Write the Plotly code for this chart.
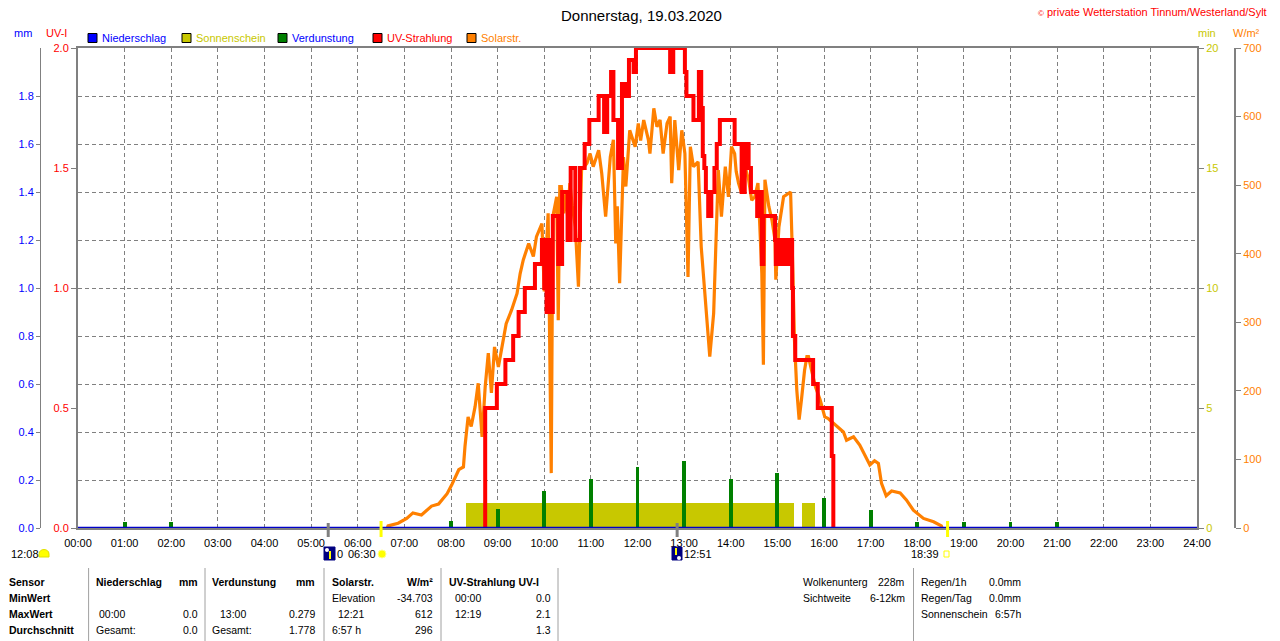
import plotly.graph_objects as go

W, H = 1280, 641
FONT = "Liberation Sans, Arial, sans-serif"

# ---------------- data ----------------
hour_ticks = list(range(25))
hour_labels = [f"{h:02d}:00" for h in hour_ticks]

solar_time = ["06:38", "06:39", "06:52", "07:03", "07:11", "07:22", "07:35", "07:44", "07:55", "08:01",
              "08:10", "08:16", "08:18", "08:22", "08:26", "08:31", "08:35", "08:40", "08:44", "08:48",
              "08:52", "08:56", "09:01", "09:07", "09:11", "09:18", "09:25", "09:29", "09:33", "09:40",
              "09:46", "09:50", "09:57", "10:00", "10:05", "10:09", "10:11", "10:16", "10:18", "10:20",
              "10:22", "10:25", "10:28", "10:30", "10:33", "10:36", "10:40", "10:44", "10:48", "10:55",
              "10:59", "11:03", "11:10", "11:14", "11:19", "11:25", "11:29", "11:32", "11:34", "11:37",
              "11:42", "11:45", "11:50", "11:57", "12:01", "12:04", "12:08", "12:14", "12:16", "12:21",
              "12:25", "12:29", "12:33", "12:38", "12:42", "12:44", "12:48", "12:53", "12:57", "13:01",
              "13:05", "13:08", "13:12", "13:18", "13:22", "13:26", "13:29", "13:33", "13:38", "13:41",
              "13:44", "13:48", "13:53", "13:57", "14:01", "14:05", "14:07", "14:10", "14:14", "14:18",
              "14:20", "14:23", "14:27", "14:31", "14:35", "14:40", "14:42", "14:44", "14:49", "14:53",
              "14:57", "14:58", "15:02", "15:08", "15:12", "15:17", "15:20", "15:22", "15:25", "15:28",
              "15:31", "15:35", "15:38", "15:40", "15:44", "15:49", "15:55", "16:01", "16:05", "16:12",
              "16:16", "16:25", "16:29", "16:38", "16:46", "16:53", "16:59", "17:05", "17:10", "17:14",
              "17:20", "17:27", "17:38", "17:46", "17:55", "18:08", "18:21", "18:31", "18:32"]
solar_wm2 = [0, 3, 7, 14, 22, 19, 32, 35, 50, 63,
             85, 89, 119, 162, 148, 177, 211, 133, 206, 255,
             197, 264, 235, 274, 298, 318, 342, 371, 391, 415,
             396, 425, 444, 345, 459, 80, 454, 483, 303, 498,
             498, 459, 490, 455, 503, 470, 439, 352, 522, 532,
             546, 527, 551, 517, 454, 541, 566, 415, 469, 357,
             541, 498, 580, 556, 590, 565, 595, 566, 546, 612,
             585, 595, 546, 590, 600, 503, 595, 522, 580, 546,
             366, 556, 527, 534, 410, 352, 308, 250, 313, 430,
             522, 454, 527, 483, 556, 546, 520, 503, 488, 546,
             520, 508, 478, 483, 503, 371, 238, 508, 469, 449,
             420, 362, 439, 483, 486, 490, 371, 274, 201, 158,
             187, 230, 250, 250, 230, 206, 187, 162, 160, 153,
             148, 140, 128, 133, 121, 104, 92, 98, 94, 65,
             47, 54, 51, 41, 26, 14, 9, 3, 0]

uv_time = ["08:43", "08:44", "08:59", "09:10", "09:20", "09:27", "09:35", "09:48", "09:57", "10:00",
           "10:01", "10:03", "10:04", "10:06", "10:08", "10:09", "10:11", "10:18", "10:23", "10:30",
           "10:34", "10:40", "10:46", "10:52", "10:58", "11:10", "11:17", "11:21", "11:26", "11:29",
           "11:35", "11:40", "11:45", "11:49", "11:55", "11:58", "12:42", "12:46", "13:01", "13:03",
           "13:12", "13:19", "13:22", "13:24", "13:26", "13:28", "13:31", "13:35", "13:39", "13:42",
           "13:46", "14:05", "14:14", "14:18", "14:23", "14:26", "14:34", "14:38", "14:40", "14:42",
           "14:57", "14:58", "15:01", "15:05", "15:08", "15:13", "15:15", "15:19", "15:20", "15:23",
           "15:46", "15:52", "16:10", "16:12"]
uv_index = [0.0, 0.5, 0.6, 0.7, 0.8, 0.9, 1.0, 1.1, 1.2, 1.0,
            1.2, 0.9, 1.2, 0.9, 1.1, 0.9, 1.3, 1.1, 1.4, 1.2,
            1.5, 1.2, 1.5, 1.6, 1.7, 1.8, 1.65, 1.8, 1.9, 1.7,
            1.5, 1.85, 1.8, 1.95, 1.9, 2.0, 1.9, 2.0, 1.9, 1.8,
            1.7, 1.9, 1.75, 1.55, 1.5, 1.4, 1.3, 1.4, 1.5, 1.6,
            1.7, 1.6, 1.4, 1.6, 1.5, 1.4, 1.3, 1.4, 1.1, 1.3,
            1.2, 1.1, 1.2, 1.1, 1.2, 1.1, 1.2, 1.0, 0.8, 0.7,
            0.6, 0.5, 0.3, 0.0]

evap_time = ["01:00", "02:00", "08:00", "09:00", "10:00", "11:00", "12:00", "13:00",
             "14:00", "15:00", "16:00", "17:00", "18:00", "19:00", "20:00", "21:00"]
evap_mm = [0.026, 0.026, 0.03, 0.078, 0.155, 0.205, 0.255, 0.279,
           0.205, 0.23, 0.126, 0.075, 0.026, 0.026, 0.026, 0.026]

sun_start = ["08:19", "15:32"]
sun_end = ["15:22", "15:49"]
sun_min = [1.05, 1.05]

rain_time = ["00:00", "24:00"]
rain_mm = [0.0, 0.0]

moon_times = ["05:22", "12:51"]
sun_times = ["06:30", "18:39"]

mm_ticks = [0.0, 0.2, 0.4, 0.6, 0.8, 1.0, 1.2, 1.4, 1.6, 1.8]
uv_ticks = [0.0, 0.5, 1.0, 1.5, 2.0]
min_ticks = [0, 5, 10, 15, 20]
wm2_ticks = [0, 100, 200, 300, 400, 500, 600, 700]


def hm(s):
    h, m = s.split(":")
    return int(h) + int(m) / 60.0


def px(x):
    return x / W


def py(y):
    return 1 - y / H


RED = "#ff0000"
ORANGE = "#ff8000"
OLIVE = "#c8c800"
GREEN = "#008000"
BLUE = "#0000ff"
DBLUE = "#0000c8"
GRAY = "#808080"

XD = [px(78), px(1197)]
YD = [py(528), py(48)]

fig = go.Figure()

s0 = [hm(t) for t in sun_start]
s1 = [hm(t) for t in sun_end]
fig.add_trace(go.Bar(x=[(a + b) / 2 for a, b in zip(s0, s1)], y=sun_min,
                     width=[b - a for a, b in zip(s0, s1)],
                     marker=dict(color=OLIVE, line=dict(width=0)),
                     xaxis="x", yaxis="y", name="Sonnenschein"))
fig.add_trace(go.Bar(x=[hm(t) for t in evap_time], y=evap_mm, width=0.085,
                     marker=dict(color=GREEN, line=dict(width=0)),
                     xaxis="x", yaxis="y2", name="Verdunstung"))
fig.add_trace(go.Scatter(x=[hm(t) for t in solar_time], y=solar_wm2, mode="lines",
                         line=dict(color=ORANGE, width=3.2), xaxis="x", yaxis="y3",
                         name="Solarstr."))
fig.add_trace(go.Scatter(x=[hm(t) for t in uv_time], y=uv_index, mode="lines",
                         line=dict(color=RED, width=4, shape="hv"), xaxis="x", yaxis="y4",
                         name="UV-Strahlung"))
fig.add_trace(go.Scatter(x=[hm(t) for t in rain_time], y=rain_mm, mode="lines",
                         line=dict(color=DBLUE, width=2.5), xaxis="x", yaxis="y5",
                         cliponaxis=False, name="Niederschlag"))

tf = dict(family=FONT, size=11)

fig.update_layout(
    width=W, height=H, margin=dict(l=0, r=0, t=0, b=0, pad=0, autoexpand=False),
    paper_bgcolor="white", plot_bgcolor="white",
    showlegend=False, barmode="overlay", bargap=0,
    font=dict(family=FONT, size=11, color="black"),
    xaxis=dict(domain=XD, range=[0, 24], tickvals=hour_ticks, ticktext=hour_labels,
               showgrid=True, gridcolor=GRAY, griddash="4px,3px", gridwidth=1,
               showline=True, mirror=True, linecolor=GRAY, linewidth=2,
               ticks="", tickfont=dict(tf, color="black"), zeroline=False,
               layer="below traces", ticklabelstandoff=4, automargin=False),
    yaxis=dict(domain=YD, range=[0, 20], side="right", anchor="x",
               tickvals=min_ticks, ticktext=[str(v) for v in min_ticks],
               ticks="outside", ticklen=5, tickcolor=GRAY,
               tickfont=dict(tf, color=OLIVE), showline=True, linecolor=GRAY, linewidth=2,
               showgrid=False, zeroline=False, layer="below traces", automargin=False),
    yaxis2=dict(overlaying="y", anchor="free", position=px(40), side="left", range=[0, 2],
                tickvals=mm_ticks, ticktext=[f"{v:.1f}" for v in mm_ticks],
                ticks="outside", ticklen=4, tickcolor=GRAY,
                tickfont=dict(tf, color=BLUE), showline=True, linecolor=GRAY, linewidth=1,
                showgrid=True, gridcolor=GRAY, griddash="4px,3px", gridwidth=1,
                zeroline=False, automargin=False),
    yaxis3=dict(overlaying="y", anchor="free", position=px(1235), side="right", range=[0, 700],
                tickvals=wm2_ticks, ticktext=[str(v) for v in wm2_ticks],
                ticks="outside", ticklen=5, tickcolor=GRAY,
                tickfont=dict(tf, color=ORANGE), showline=True, linecolor=GRAY, linewidth=2,
                showgrid=False, zeroline=False, automargin=False),
    yaxis4=dict(overlaying="y", anchor="x", side="left", range=[0, 2],
                tickvals=uv_ticks, ticktext=[f"{v:.1f}" for v in uv_ticks],
                ticks="outside", ticklen=5, tickcolor=GRAY,
                tickfont=dict(tf, color=RED), showline=True, linecolor=GRAY, linewidth=2,
                showgrid=False, zeroline=False, layer="below traces", automargin=False),
    yaxis5=dict(overlaying="y", range=[0, 2], visible=False, automargin=False),
)

ann = []
shapes = []


def A(text, x, y, color="black", anchor="left", size=11, bold=False):
    if bold:
        text = "<b>" + text + "</b>"
    ann.append(dict(text=text, x=px(x), y=py(y), xref="paper", yref="paper",
                    xanchor=anchor, yanchor="middle", showarrow=False,
                    font=dict(family=FONT, size=size, color=color), borderpad=0))


def R(x0, y0, x1, y1, fill, line="black", lw=1):
    shapes.append(dict(type="rect", xref="paper", yref="paper",
                       x0=px(x0), x1=px(x1), y0=py(y1), y1=py(y0),
                       fillcolor=fill, line=dict(color=line, width=lw)))


A("Donnerstag, 19.03.2020", 641, 15, anchor="center", size=15)
A("<span style='font-size:8px'>©</span> private Wetterstation Tinnum/Westerland/Sylt", 1268, 12,
  color=RED, anchor="right", size=11)

A("mm", 13, 33, color=BLUE)
A("UV-I", 45, 33, color=RED)
A("min", 1197, 33, color=OLIVE)
A("W/m²", 1232, 33, color=ORANGE)

legend_items = [("Niederschlag", "#0000ff", BLUE, 88),
                ("Sonnenschein", OLIVE, OLIVE, 182),
                ("Verdunstung", GREEN, BLUE, 278),
                ("UV-Strahlung", RED, RED, 373),
                ("Solarstr.", ORANGE, ORANGE, 467)]
for name, box, tc, x in legend_items:
    R(x, 33.5, x + 9, 42.5, box)
    A(name, x + 13, 38, color=tc)

for t in moon_times:
    shapes.append(dict(type="line", xref="x", yref="paper", x0=hm(t), x1=hm(t),
                       y0=py(537), y1=py(523), line=dict(color=GRAY, width=3)))
for t in sun_times:
    shapes.append(dict(type="line", xref="x", yref="paper", x0=hm(t), x1=hm(t),
                       y0=py(537), y1=py(521), line=dict(color="#ffff00", width=3)))

A("12:08", 10, 554)
# half-sun icon (yellow dome)
shapes.append(dict(type="path", xref="paper", yref="paper",
                   path=(f"M {px(39)},{py(557)} L {px(39)},{py(554)} "
                         f"C {px(39)},{py(548)} {px(49)},{py(548)} {px(49)},{py(554)} "
                         f"L {px(49)},{py(557)} Z"),
                   fillcolor="#ffff00", line=dict(color="#e0e000", width=1)))
R(324, 547, 335, 560, "#000080", line="#000080")
shapes.append(dict(type="circle", xref="paper", yref="paper", x0=px(325), x1=px(329),
                   y0=py(552), y1=py(548), fillcolor="white", line=dict(width=0)))
R(329, 551, 331, 559, "#ffff00", line="#ffff00", lw=0)
A("0", 336, 554)
A("06:30", 347, 554)
shapes.append(dict(type="circle", xref="paper", yref="paper", x0=px(378), x1=px(386),
                   y0=py(558), y1=py(550), fillcolor="#ffff00", line=dict(color="#ffff90", width=1)))
R(672, 547, 682, 560, "#000080", line="#000080")
R(675, 548, 677, 555, "#ffff00", line="#ffff00", lw=0)
shapes.append(dict(type="circle", xref="paper", yref="paper", x0=px(677), x1=px(681),
                   y0=py(560), y1=py(556), fillcolor="white", line=dict(width=0)))
A("12:51", 683, 554)
A("18:39", 940, 554, anchor="right")
R(944, 551, 949, 557, "rgba(0,0,0,0)", line="#ffff00", lw=1)

for x in [88.6, 205, 324, 441, 558, 913.5]:
    shapes.append(dict(type="line", xref="paper", yref="paper", x0=px(x), x1=px(x),
                       y0=py(641), y1=py(568), line=dict(color="#a0a0a0", width=1)))

TS = 10.5
r1, r2, r3, r4 = 582, 598, 614, 630
A("Sensor", 8, r1, bold=True, size=TS)
A("MinWert", 8, r2, bold=True, size=TS)
A("MaxWert", 8, r3, bold=True, size=TS)
A("Durchschnitt", 8, r4, bold=True, size=TS)

A("Niederschlag", 95, r1, bold=True, size=TS)
A("mm", 199, r1, anchor="right", bold=True, size=TS)
A("00:00", 98, r3, size=TS)
A("0.0", 199, r3, anchor="right", size=TS)
A("Gesamt:", 95, r4, size=TS)
A("0.0", 199, r4, anchor="right", size=TS)

A("Verdunstung", 211, r1, bold=True, size=TS)
A("mm", 316, r1, anchor="right", bold=True, size=TS)
A("13:00", 219, r3, size=TS)
A("0.279", 316, r3, anchor="right", size=TS)
A("Gesamt:", 211, r4, size=TS)
A("1.778", 316, r4, anchor="right", size=TS)

A("Solarstr.", 331, r1, bold=True, size=TS)
A("W/m²", 434, r1, anchor="right", bold=True, size=TS)
A("Elevation", 331, r2, size=TS)
A("-34.703", 434, r2, anchor="right", size=TS)
A("12:21", 337, r3, size=TS)
A("612", 434, r3, anchor="right", size=TS)
A("6:57 h", 331, r4, size=TS)
A("296", 434, r4, anchor="right", size=TS)

A("UV-Strahlung UV-I", 448, r1, bold=True, size=TS)
A("00:00", 454, r2, size=TS)
A("0.0", 552, r2, anchor="right", size=TS)
A("12:19", 454, r3, size=TS)
A("2.1", 552, r3, anchor="right", size=TS)
A("1.3", 552, r4, anchor="right", size=TS)

A("Wolkenunterg", 802, r1, size=TS)
A("228m", 906, r1, anchor="right", size=TS)
A("Sichtweite", 802, r2, size=TS)
A("6-12km", 906, r2, anchor="right", size=TS)

A("Regen/1h", 920, r1, size=TS)
A("0.0mm", 1022, r1, anchor="right", size=TS)
A("Regen/Tag", 920, r2, size=TS)
A("0.0mm", 1022, r2, anchor="right", size=TS)
A("Sonnenschein", 920, r3, size=TS)
A("6:57h", 1022, r3, anchor="right", size=TS)

fig.update_layout(annotations=ann, shapes=shapes)

fig.write_html("out.html", config={"displayModeBar": False},
               post_script="document.body.style.margin='0px';document.body.style.overflow='hidden';")
